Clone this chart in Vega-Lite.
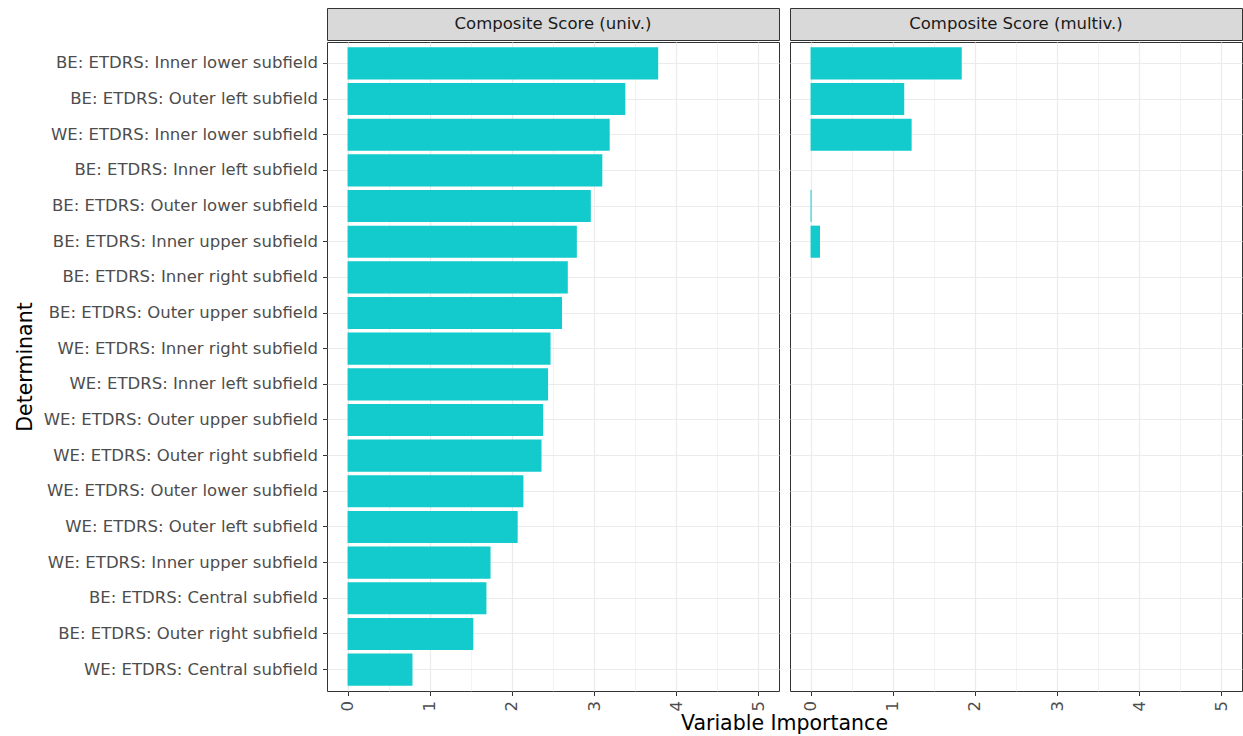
{
  "$schema": "https://vega.github.io/schema/vega-lite/v6.json",
  "background": "white",
  "padding": {"left": 14, "top": 7, "right": 0, "bottom": 0},
  "config": {"font": "DejaVu Sans", "view": {"stroke": "#333333"}},
  "title": {"text": "Variable Importance", "orient": "bottom", "anchor": "middle", "dx": 156, "offset": 3, "fontSize": 20.5, "fontWeight": "normal", "color": "#000000"},
  "data": {"values": [
    {"panel": "Composite Score (univ.)", "determinant": "BE: ETDRS: Inner lower subfield", "value": 3.78},
    {"panel": "Composite Score (univ.)", "determinant": "BE: ETDRS: Outer left subfield", "value": 3.38},
    {"panel": "Composite Score (univ.)", "determinant": "WE: ETDRS: Inner lower subfield", "value": 3.19},
    {"panel": "Composite Score (univ.)", "determinant": "BE: ETDRS: Inner left subfield", "value": 3.10},
    {"panel": "Composite Score (univ.)", "determinant": "BE: ETDRS: Outer lower subfield", "value": 2.96},
    {"panel": "Composite Score (univ.)", "determinant": "BE: ETDRS: Inner upper subfield", "value": 2.79},
    {"panel": "Composite Score (univ.)", "determinant": "BE: ETDRS: Inner right subfield", "value": 2.68},
    {"panel": "Composite Score (univ.)", "determinant": "BE: ETDRS: Outer upper subfield", "value": 2.61},
    {"panel": "Composite Score (univ.)", "determinant": "WE: ETDRS: Inner right subfield", "value": 2.47},
    {"panel": "Composite Score (univ.)", "determinant": "WE: ETDRS: Inner left subfield", "value": 2.44},
    {"panel": "Composite Score (univ.)", "determinant": "WE: ETDRS: Outer upper subfield", "value": 2.38},
    {"panel": "Composite Score (univ.)", "determinant": "WE: ETDRS: Outer right subfield", "value": 2.36},
    {"panel": "Composite Score (univ.)", "determinant": "WE: ETDRS: Outer lower subfield", "value": 2.14},
    {"panel": "Composite Score (univ.)", "determinant": "WE: ETDRS: Outer left subfield", "value": 2.07},
    {"panel": "Composite Score (univ.)", "determinant": "WE: ETDRS: Inner upper subfield", "value": 1.74},
    {"panel": "Composite Score (univ.)", "determinant": "BE: ETDRS: Central subfield", "value": 1.69},
    {"panel": "Composite Score (univ.)", "determinant": "BE: ETDRS: Outer right subfield", "value": 1.53},
    {"panel": "Composite Score (univ.)", "determinant": "WE: ETDRS: Central subfield", "value": 0.79},
    {"panel": "Composite Score (multiv.)", "determinant": "BE: ETDRS: Inner lower subfield", "value": 1.84},
    {"panel": "Composite Score (multiv.)", "determinant": "BE: ETDRS: Outer left subfield", "value": 1.14},
    {"panel": "Composite Score (multiv.)", "determinant": "WE: ETDRS: Inner lower subfield", "value": 1.23},
    {"panel": "Composite Score (multiv.)", "determinant": "BE: ETDRS: Outer lower subfield", "value": 0.012},
    {"panel": "Composite Score (multiv.)", "determinant": "BE: ETDRS: Inner upper subfield", "value": 0.115}
  ]},
  "hconcat": [
    {
      "spacing": 0,
      "vconcat": [
        {
          "width": 452, "height": 32,
          "view": {"fill": "#D9D9D9", "stroke": "#333333", "strokeWidth": 1},
          "data": {"values": [{"label": "Composite Score (univ.)"}]},
          "mark": {"type": "text", "fontSize": 16.5, "color": "#1A1A1A"},
          "encoding": {"text": {"field": "label"}}
        },
        {
          "width": 452, "height": 649,
          "view": {"stroke": "#333333", "strokeWidth": 1},
          "transform": [{"filter": "datum.panel === 'Composite Score (univ.)'"}],
          "mark": {"type": "bar", "color": "#13CACC"},
          "encoding": {
            "y": {
              "field": "determinant", "type": "nominal",
              "sort": ["BE: ETDRS: Inner lower subfield","BE: ETDRS: Outer left subfield","WE: ETDRS: Inner lower subfield","BE: ETDRS: Inner left subfield","BE: ETDRS: Outer lower subfield","BE: ETDRS: Inner upper subfield","BE: ETDRS: Inner right subfield","BE: ETDRS: Outer upper subfield","WE: ETDRS: Inner right subfield","WE: ETDRS: Inner left subfield","WE: ETDRS: Outer upper subfield","WE: ETDRS: Outer right subfield","WE: ETDRS: Outer lower subfield","WE: ETDRS: Outer left subfield","WE: ETDRS: Inner upper subfield","BE: ETDRS: Central subfield","BE: ETDRS: Outer right subfield","WE: ETDRS: Central subfield"],
              "scale": {"paddingInner": 0.1, "paddingOuter": 0.15},
              "axis": {
                "title": "Determinant", "titleX": -292, "titleFontSize": 20.5, "titleColor": "#000000", "titleFontWeight": "normal",
                "labelFontSize": 16.5, "labelColor": "#4D4D4D", "labelPadding": 5, "labelLimit": 400,
                "tickColor": "#333333", "tickSize": 4.5, "domain": false,
                "grid": true, "gridColor": "#EBEBEB", "gridWidth": 1.2, "bandPosition": 0.5
              }
            },
            "x": {
              "field": "value", "type": "quantitative",
              "scale": {"domain": [-0.25, 5.25], "nice": false},
              "axis": {
                "values": [0, 0.5, 1, 1.5, 2, 2.5, 3, 3.5, 4, 4.5, 5],
                "labelExpr": "datum.value % 1 === 0 ? format(datum.value, 'd') : ''",
                "labelAngle": 270, "labelFontSize": 16.5, "labelColor": "#4D4D4D", "labelPadding": 5,
                "tickColor": {"condition": {"test": "datum.value % 1 !== 0", "value": "transparent"}, "value": "#333333"},
                "tickSize": 4.5, "domain": false,
                "grid": true, "gridColor": "#EBEBEB",
                "gridWidth": {"condition": {"test": "datum.value % 1 !== 0", "value": 0.6}, "value": 1.2},
                "title": null
              }
            }
          }
        }
      ]
    },
    {
      "spacing": 0,
      "vconcat": [
        {
          "width": 452, "height": 32,
          "view": {"fill": "#D9D9D9", "stroke": "#333333", "strokeWidth": 1},
          "data": {"values": [{"label": "Composite Score (multiv.)"}]},
          "mark": {"type": "text", "fontSize": 16.5, "color": "#1A1A1A"},
          "encoding": {"text": {"field": "label"}}
        },
        {
          "width": 452, "height": 649,
          "view": {"stroke": "#333333", "strokeWidth": 1},
          "transform": [{"filter": "datum.panel === 'Composite Score (multiv.)'"}],
          "mark": {"type": "bar", "color": "#13CACC"},
          "encoding": {
            "y": {
              "field": "determinant", "type": "nominal",
              "sort": ["BE: ETDRS: Inner lower subfield","BE: ETDRS: Outer left subfield","WE: ETDRS: Inner lower subfield","BE: ETDRS: Inner left subfield","BE: ETDRS: Outer lower subfield","BE: ETDRS: Inner upper subfield","BE: ETDRS: Inner right subfield","BE: ETDRS: Outer upper subfield","WE: ETDRS: Inner right subfield","WE: ETDRS: Inner left subfield","WE: ETDRS: Outer upper subfield","WE: ETDRS: Outer right subfield","WE: ETDRS: Outer lower subfield","WE: ETDRS: Outer left subfield","WE: ETDRS: Inner upper subfield","BE: ETDRS: Central subfield","BE: ETDRS: Outer right subfield","WE: ETDRS: Central subfield"],
              "scale": {"domain": ["BE: ETDRS: Inner lower subfield","BE: ETDRS: Outer left subfield","WE: ETDRS: Inner lower subfield","BE: ETDRS: Inner left subfield","BE: ETDRS: Outer lower subfield","BE: ETDRS: Inner upper subfield","BE: ETDRS: Inner right subfield","BE: ETDRS: Outer upper subfield","WE: ETDRS: Inner right subfield","WE: ETDRS: Inner left subfield","WE: ETDRS: Outer upper subfield","WE: ETDRS: Outer right subfield","WE: ETDRS: Outer lower subfield","WE: ETDRS: Outer left subfield","WE: ETDRS: Inner upper subfield","BE: ETDRS: Central subfield","BE: ETDRS: Outer right subfield","WE: ETDRS: Central subfield"], "paddingInner": 0.1, "paddingOuter": 0.15},
              "axis": {
                "title": null, "labels": false, "ticks": false, "domain": false,
                "grid": true, "gridColor": "#EBEBEB", "gridWidth": 1.2, "bandPosition": 0.5
              }
            },
            "x": {
              "field": "value", "type": "quantitative",
              "scale": {"domain": [-0.25, 5.25], "nice": false},
              "axis": {
                "values": [0, 0.5, 1, 1.5, 2, 2.5, 3, 3.5, 4, 4.5, 5],
                "labelExpr": "datum.value % 1 === 0 ? format(datum.value, 'd') : ''",
                "labelAngle": 270, "labelFontSize": 16.5, "labelColor": "#4D4D4D", "labelPadding": 5,
                "tickColor": {"condition": {"test": "datum.value % 1 !== 0", "value": "transparent"}, "value": "#333333"},
                "tickSize": 4.5, "domain": false,
                "grid": true, "gridColor": "#EBEBEB",
                "gridWidth": {"condition": {"test": "datum.value % 1 !== 0", "value": 0.6}, "value": 1.2},
                "title": null
              }
            }
          }
        }
      ]
    }
  ],
  "spacing": 9
}
